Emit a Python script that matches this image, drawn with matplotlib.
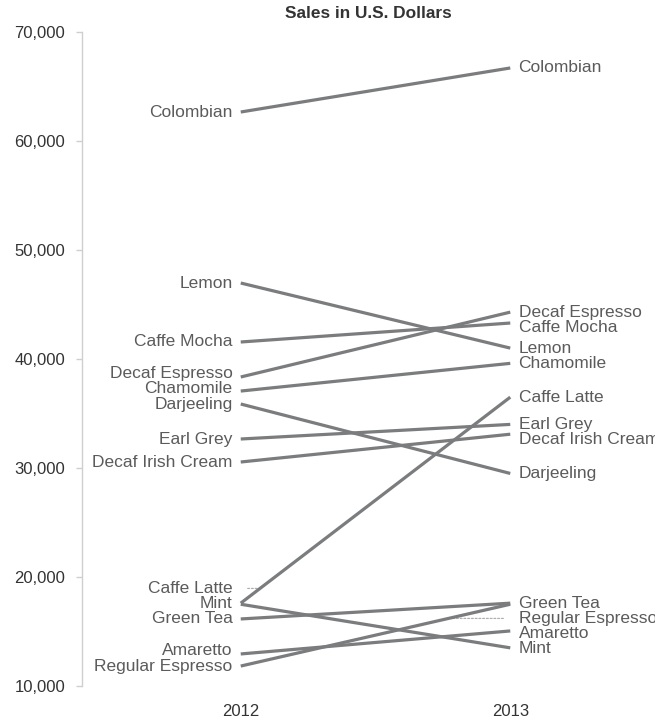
import matplotlib
matplotlib.use("Agg")
import matplotlib.pyplot as plt
from matplotlib.ticker import FuncFormatter

products = ["Colombian", "Lemon", "Caffe Mocha", "Decaf Espresso", "Chamomile",
            "Darjeeling", "Earl Grey", "Decaf Irish Cream", "Caffe Latte", "Mint",
            "Green Tea", "Amaretto", "Regular Espresso"]
sales_2012 = [62660, 46970, 41560, 38350, 37060, 35870, 32660, 30550, 17600, 17500,
              16150, 12940, 11830]
sales_2013 = [66700, 41000, 43300, 44300, 39600, 29500, 34000, 33100, 36500, 13500,
              17600, 15050, 17500]
years = ["2012", "2013"]
yticks = [10000, 20000, 30000, 40000, 50000, 60000, 70000]

plt.rcParams['font.family'] = ['Liberation Sans', 'DejaVu Sans']

LINE_C = "#7b7c7e"
LABEL_C = "#5b5b5b"
TICK_C = "#333333"
SPINE_C = "#cfcfcf"
LEADER_C = "#b0b0b0"
GAP = 1400
LEADER_MIN = 800
FS = 12.5


def place(values, direction):
    """Greedy label placement. direction=+1 pushes upward (bottom-up),
    -1 pushes downward (top-down)."""
    idx = sorted(range(len(values)), key=lambda i: values[i], reverse=(direction < 0))
    pos = [None] * len(values)
    prev = None
    for i in idx:
        p = values[i]
        if prev is not None:
            if direction > 0:
                p = max(p, prev + GAP)
            else:
                p = min(p, prev - GAP)
        pos[i] = p
        prev = p
    return pos


fig = plt.figure(figsize=(6.55, 7.21), dpi=100)
ax = fig.add_axes([82 / 655, 1 - 686 / 721, 1 - 82 / 655, (686 - 32) / 721])

for a, b in zip(sales_2012, sales_2013):
    ax.plot([0, 1], [a, b], color=LINE_C, lw=2.3, solid_capstyle='butt', zorder=3)

pos12 = place(sales_2012, +1)
pos13 = place(sales_2013, -1)


def draw_leader(x_label, p, a, b):
    # dotted leader from label to the point on its own line at the label's height
    t = min(max((p - a) / (b - a), 0.0), 1.0)
    ax.annotate("", xy=(t, a + t * (b - a)), xycoords='data',
                xytext=(x_label, p), textcoords='data',
                arrowprops=dict(arrowstyle='-', color=LEADER_C, lw=0.9,
                                linestyle=(0, (1.5, 1.5)), shrinkA=-5, shrinkB=0),
                zorder=2)


for name, a, b, p in zip(products, sales_2012, sales_2013, pos12):
    ax.annotate(name, xy=(0, p), xytext=(-6, 0), textcoords='offset points',
                ha='right', va='center', fontsize=FS, color=LABEL_C)
    if abs(p - a) > LEADER_MIN:
        draw_leader(0, p, a, b)

for name, a, b, p in zip(products, sales_2012, sales_2013, pos13):
    ax.annotate(name, xy=(1, p), xytext=(6, 0), textcoords='offset points',
                ha='left', va='center', fontsize=FS, color=LABEL_C)
    if abs(p - b) > LEADER_MIN:
        draw_leader(1, p, a, b)

ax.set_xlim(-0.589, 1.537)
ax.set_ylim(10000, 70000)
ax.set_yticks(yticks)
ax.yaxis.set_major_formatter(FuncFormatter(lambda v, _: f"{v:,.0f}"))
ax.set_xticks([0, 1])
ax.set_xticklabels(years)
ax.tick_params(axis='y', length=4, width=1, color=SPINE_C, labelsize=12,
               labelcolor=TICK_C, pad=8)
ax.tick_params(axis='x', length=0, labelsize=12, labelcolor=TICK_C, pad=13)
for s in ['top', 'right', 'bottom']:
    ax.spines[s].set_visible(False)
ax.spines['left'].set_color(SPINE_C)
ax.spines['left'].set_linewidth(1)
ax.set_facecolor('none')

fig.text((82 + 655) / 2 / 655, 1 - 13 / 721, "Sales in U.S. Dollars", ha='center',
         va='center', fontsize=12.4, fontweight='bold', color=TICK_C)

fig.savefig("out.png", dpi=100)
